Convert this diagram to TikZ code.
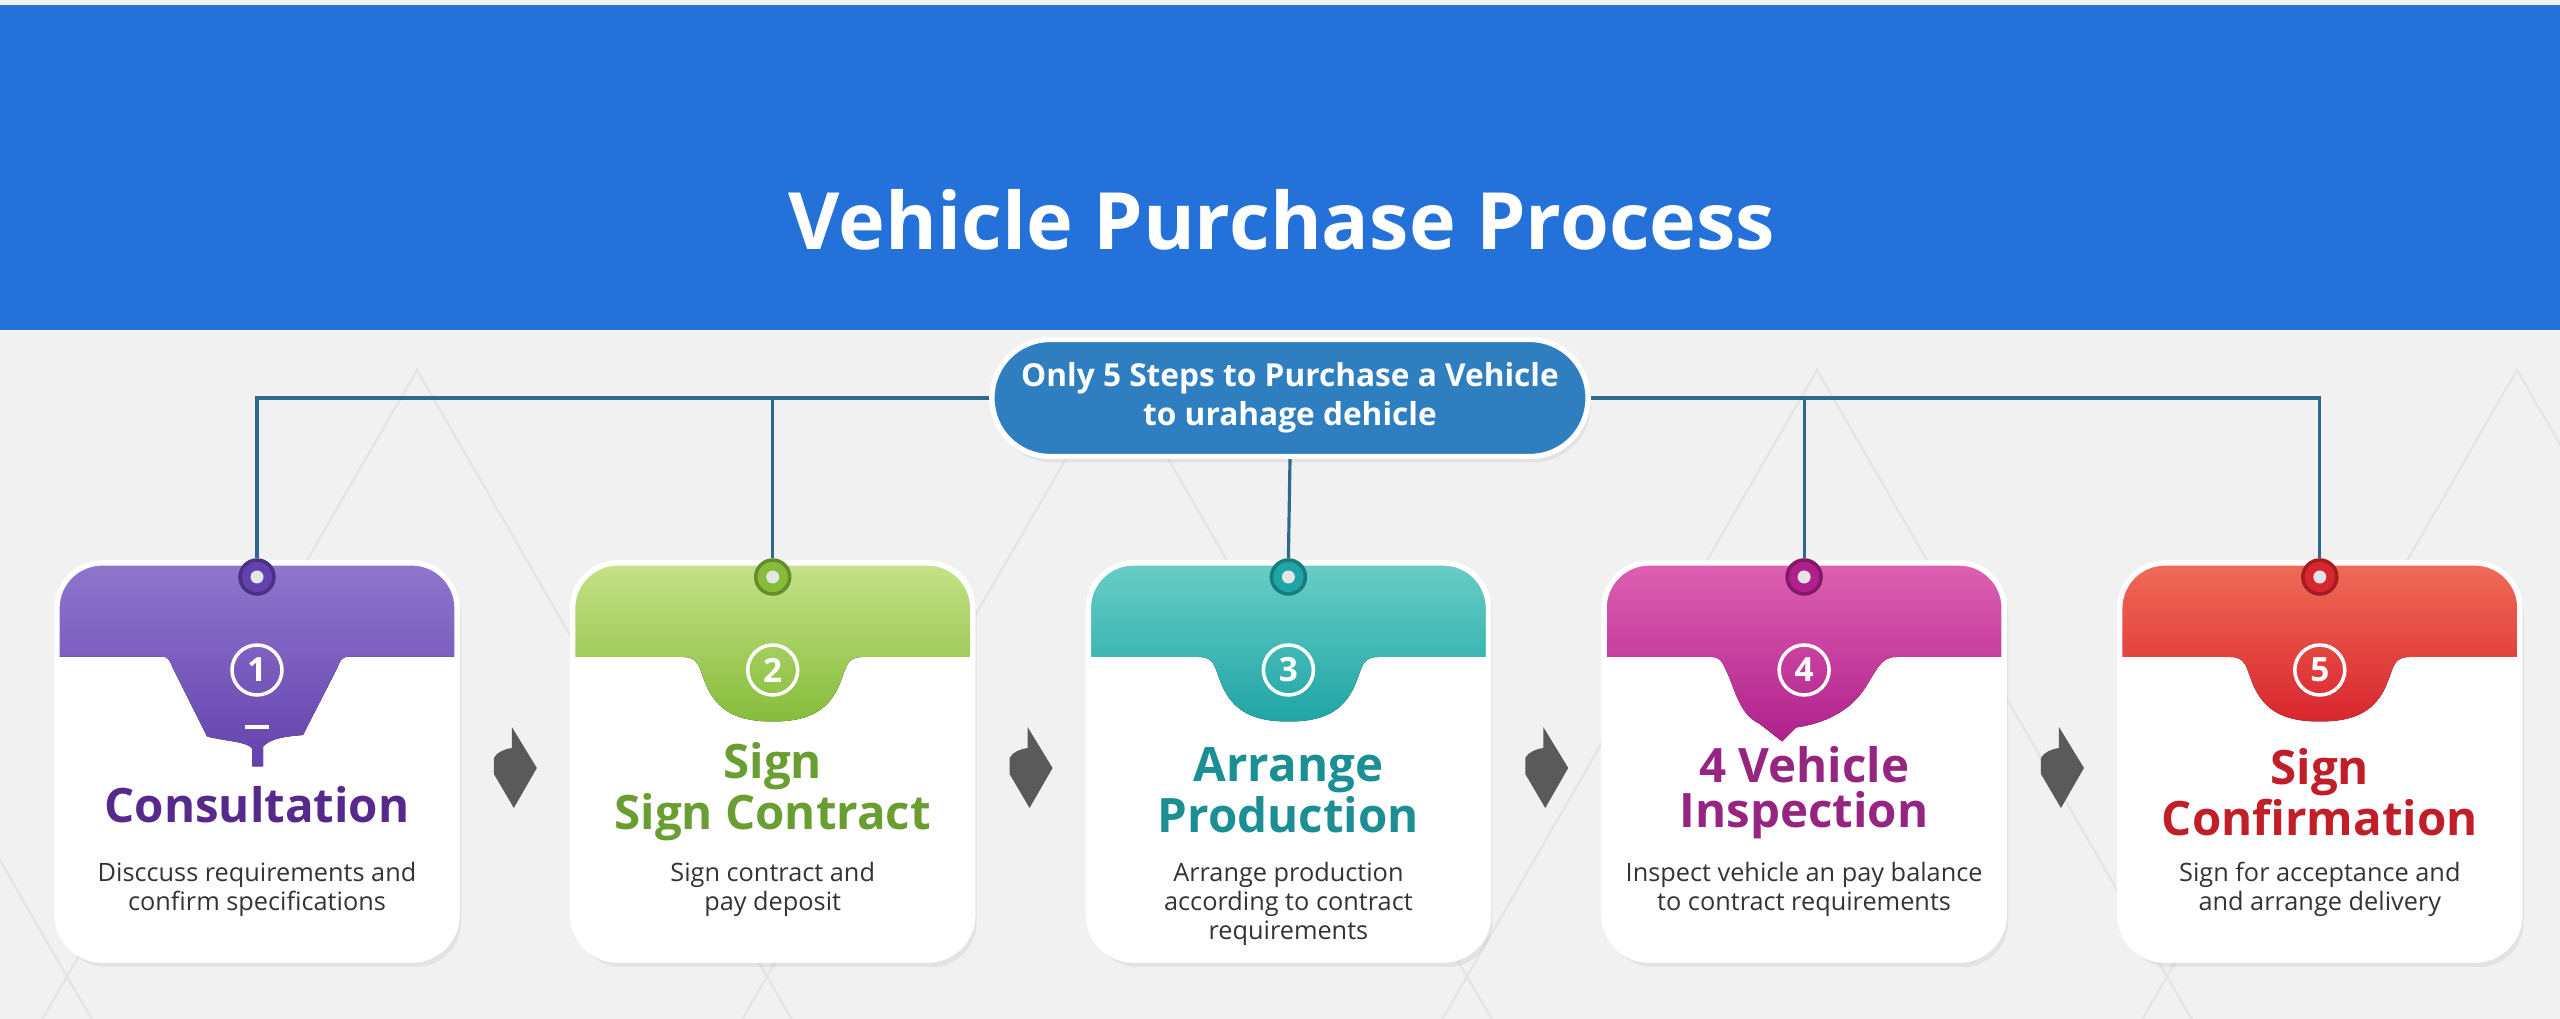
\documentclass[tikz,border=0pt]{standalone}
\usepackage{fontspec}
\setmainfont{Open Sans}
\usepackage{tikz}
\usetikzlibrary{positioning, calc, shadows}

\definecolor{bannerblue}{HTML}{2471D9}
\definecolor{pillblue}{HTML}{2F7EC0}
\definecolor{linkblue}{HTML}{2D6A8C}
\definecolor{bggray}{HTML}{F1F1F1}
\definecolor{gridgray}{HTML}{E5E5E5}
\definecolor{textgray}{HTML}{333333}
\definecolor{arrowgray}{HTML}{5A5A5A}
% step colours: light top, dark bottom, title text
\definecolor{purpleA}{HTML}{9279CF}
\definecolor{purpleB}{HTML}{6442AE}
\definecolor{purpleT}{HTML}{57298C}
\definecolor{greenA}{HTML}{CBE48E}
\definecolor{greenB}{HTML}{86BC3A}
\definecolor{greenT}{HTML}{6A9E32}
\definecolor{tealA}{HTML}{6FD0C8}
\definecolor{tealB}{HTML}{1FA5A6}
\definecolor{tealT}{HTML}{1B8F93}
\definecolor{pinkA}{HTML}{E065B4}
\definecolor{pinkB}{HTML}{B0208C}
\definecolor{pinkT}{HTML}{962582}
\definecolor{redA}{HTML}{F2705A}
\definecolor{redB}{HTML}{D8262E}
\definecolor{redT}{HTML}{C01E28}

\tikzset{
	card/.style={draw=white, line width=1.5pt, fill=white!97!bggray, rounded corners=0.45cm,
		minimum width=4cm, minimum height=3.97cm, outer sep=0pt, inner sep=0pt,
		drop shadow={opacity=0.12, shadow xshift=0.04cm, shadow yshift=-0.07cm}},
	pill/.style={draw=white, line width=1.5pt, fill=pillblue, rounded corners=0.58cm,
		minimum width=5.96cm, minimum height=1.17cm, text=white, align=center,
		font=\bfseries\fontsize{9}{11.2}\selectfont,
		drop shadow={opacity=0.13, shadow xshift=0.03cm, shadow yshift=-0.06cm}},
	grommet/.style={circle, fill=#1, draw=#1!75!black, line width=1pt, minimum size=0.34cm, inner sep=0pt},
	numring/.style={circle, draw=white, line width=1pt, minimum size=0.5cm, inner sep=0pt,
		text=white, font=\bfseries\fontsize{9.5}{9.5}\selectfont},
	steptitle/.style={text=#1, align=center, inner sep=0pt, font=\bfseries\fontsize{13.5}{12.8}\selectfont},
	stepdesc/.style={text=textgray, align=center, anchor=north, inner sep=0pt, font=\fontsize{7.2}{8.2}\selectfont},
	link/.style={linkblue, line width=0.9pt},
	gridline/.style={gridgray, line width=0.7pt},
}

% coloured head of a card, #4 is the tab outline
\newcommand{\cardhead}[4]{%
	\begin{scope}
		\clip[rounded corners=0.45cm] (#1.south west) rectangle (#1.north east);
		\fill[top color=#2, bottom color=#3, shift={(#1.center)}] #4;
	\end{scope}
	\draw[white, line width=1.5pt, rounded corners=0.45cm] (#1.south west) rectangle (#1.north east);
}
\newcommand{\tabround}{(-2.1,2.1) -- (-2.1,1.045) -- (-0.9,1.045) .. controls (-0.74,1.045) and (-0.74,0.95) .. (-0.68,0.8) .. controls (-0.56,0.48) and (-0.32,0.4) .. (0,0.4) .. controls (0.32,0.4) and (0.56,0.48) .. (0.68,0.8) .. controls (0.74,0.95) and (0.74,1.045) .. (0.9,1.045) -- (2.1,1.045) -- (2.1,2.1) -- cycle}
\newcommand{\tabdrip}{(-2.1,2.1) -- (-2.1,1.048) -- (-0.95,1.048) .. controls (-0.88,1.048) and (-0.87,1.0) .. (-0.84,0.93) -- (-0.5,0.25) .. controls (-0.3,0.2) and (-0.1,0.2) .. (-0.05,0.13) -- (-0.045,-0.05) -- (0.06,-0.05) -- (0.06,0.15) .. controls (0.15,0.24) and (0.3,0.25) .. (0.46,0.265) -- (0.8,0.93) .. controls (0.83,1.0) and (0.84,1.048) .. (0.92,1.048) -- (2.1,1.048) -- (2.1,2.1) -- cycle}
\newcommand{\tabpoint}{(-2.1,2.1) -- (-2.1,1.045) -- (-0.92,1.045) .. controls (-0.82,1.045) and (-0.8,0.95) .. (-0.74,0.82) .. controls (-0.66,0.6) and (-0.6,0.45) .. (-0.45,0.38) -- (-0.22,0.2) -- (-0.08,0.34) .. controls (0.2,0.38) and (0.45,0.5) .. (0.6,0.72) .. controls (0.72,0.9) and (0.76,1.045) .. (0.92,1.045) -- (2.1,1.045) -- (2.1,2.1) -- cycle}
% grey marker between two cards
\newcommand{\stepmark}[1]{%
	\fill[arrowgray, shift={(#1)}] (-0.03,0.41) -- (0.22,0) -- (-0.01,-0.4) -- (-0.21,-0.06) -- (-0.21,0.1) .. controls (-0.18,0.16) and (-0.1,0.19) .. (-0.03,0.2) -- cycle;
}

\begin{document}
\begin{tikzpicture}
	\useasboundingbox (0,0) rectangle (25.6,10.19);
	
	% Background and banner
	\fill[bggray] (0,0) rectangle (25.6,10.19);
	\begin{scope}
		\clip (0,0) rectangle (25.6,6.89);
		\foreach \a in {-2.83,4.17,11.17,18.17,25.17}
		\draw[gridline] (\a-4.04,-0.51) -- (\a,6.49) -- (\a+4.04,-0.51);
	\end{scope}
	\fill[bannerblue] (0,6.89) rectangle (25.6,10.14);
	\node[text=white, font=\bfseries\fontsize{22.5}{22.5}\selectfont] (title) at (12.82,7.99) {Vehicle Purchase Process};
	
	% Cards
	\node[card] (c1) at (2.57,2.575) {};
	\node[card, right=1.157cm of c1] (c2) {};
	\node[card, right=1.157cm of c2] (c3) {};
	\node[card, right=1.157cm of c3] (c4) {};
	\node[card, right=1.157cm of c4] (c5) {};
	
	\cardhead{c1}{purpleA}{purpleB}{\tabdrip}
	\cardhead{c2}{greenA}{greenB}{\tabround}
	\cardhead{c3}{tealA}{tealB}{\tabround}
	\cardhead{c4}{pinkA}{pinkB}{\tabpoint}
	\cardhead{c5}{redA}{redB}{\tabround}
	\draw[white, line width=1pt] ([xshift=-0.12cm, yshift=0.345cm]c1.center) -- ([xshift=0.12cm, yshift=0.345cm]c1.center);
	
	% Heading pill and hangers
	\node[pill] (steps) at (12.9,6.21) {Only 5 Steps to Purchase a Vehicle\\to urahage dehicle};
	
	\node[grommet=purpleB] (g1) at ([yshift=-0.14cm]c1.north) {};
	\node[grommet=greenB] (g2) at ([yshift=-0.14cm]c2.north) {};
	\node[grommet=tealB] (g3) at ([yshift=-0.14cm]c3.north) {};
	\node[grommet=pinkB] (g4) at ([yshift=-0.14cm]c4.north) {};
	\node[grommet=redB] (g5) at ([yshift=-0.14cm]c5.north) {};
	\foreach \g in {g1,g2,g3,g4,g5}
	\fill[white!80!gray] (\g.center) circle (0.065);
	
	\draw[link] (steps.west) -| (g1.north);
	\draw[link] (steps.west) -| (g2.north);
	\draw[link] (steps.south) -- (g3.north);
	\draw[link] (steps.east) -| (g4.north);
	\draw[link] (steps.east) -| (g5.north);
	
	% Numbers
	\node[numring] (n1) at ([yshift=-1.07cm]c1.north) {1};
	\node[numring] (n2) at ([yshift=-1.07cm]c2.north) {2};
	\node[numring] (n3) at ([yshift=-1.07cm]c3.north) {3};
	\node[numring] (n4) at ([yshift=-1.07cm]c4.north) {4};
	\node[numring] (n5) at ([yshift=-1.07cm]c5.north) {5};
	
	% Step titles and texts
	\node[steptitle=purpleT] (t1) at ([yshift=-0.43cm]c1.center) {Consultation};
	\node[steptitle=greenT] (t2) at ([yshift=-0.3cm]c2.center) {Sign\\Sign Contract};
	\node[steptitle=tealT] (t3) at ([yshift=-0.29cm]c3.center) {Arrange\\Production};
	\node[steptitle=pinkT] (t4) at ([yshift=-0.31cm]c4.center) {4 Vehicle\\Inspection};
	\node[steptitle=redT] (t5) at ([yshift=-0.31cm]c5.center) {Sign\\Confirmation};
	
	\node[stepdesc] (d1) at ([yshift=-1.0cm]c1.center) {Disccuss requirements and\\confirm specifications};
	\node[stepdesc] (d2) at ([yshift=-1.0cm]c2.center) {Sign contract and\\pay deposit};
	\node[stepdesc] (d3) at ([yshift=-1.0cm]c3.center) {Arrange production\\according to contract\\requirements};
	\node[stepdesc] (d4) at ([yshift=-1.0cm]c4.center) {Inspect vehicle an pay balance\\to contract requirements};
	\node[stepdesc] (d5) at ([yshift=-1.0cm]c5.center) {Sign for acceptance and\\and arrange delivery};
	
	% Markers between cards
	\stepmark{$(c1.east)!0.5!(c2.west)+(0,-0.065)$}
	\stepmark{$(c2.east)!0.5!(c3.west)+(0,-0.065)$}
	\stepmark{$(c3.east)!0.5!(c4.west)+(0,-0.065)$}
	\stepmark{$(c4.east)!0.5!(c5.west)+(0,-0.065)$}
\end{tikzpicture}
\end{document}
